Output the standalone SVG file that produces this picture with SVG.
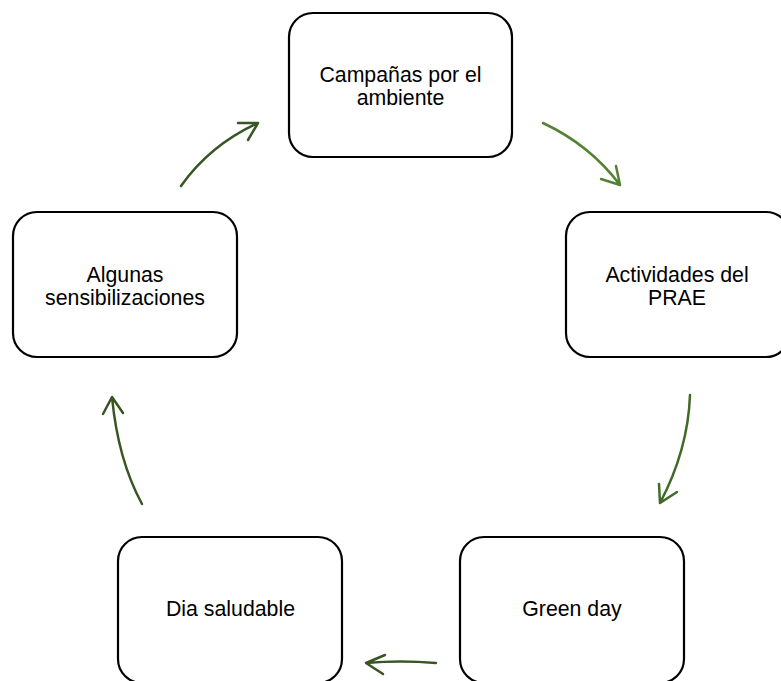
<svg xmlns="http://www.w3.org/2000/svg" width="781" height="681" viewBox="0 0 781 681">
<style>
.box{fill:#fff;stroke:#000;stroke-width:2.2}
.t{font-family:"Liberation Sans",Arial,sans-serif;font-size:21.3px;fill:#000;text-anchor:middle}
.a{fill:none;stroke-width:2.5;stroke-linecap:round;stroke-linejoin:round}
.g1{stroke:#548235}
.g2{stroke:#3f6a28}
.g3{stroke:#375623}
</style>
<rect width="781" height="681" fill="#fff"/>
<g id="n1"><rect class="box" x="289" y="13" width="223" height="144" rx="24"/><text class="t" x="400.5" y="82">Campañas por el</text><text class="t" x="400.5" y="104.5">ambiente</text></g>
<g id="n2"><rect class="box" x="566" y="212" width="224" height="145" rx="24"/><text class="t" x="677" y="282">Actividades del</text><text class="t" x="677" y="304.5">PRAE</text></g>
<g id="n3"><rect class="box" x="460" y="537" width="224" height="146" rx="24"/><text class="t" x="572" y="615.5">Green day</text></g>
<g id="n4"><rect class="box" x="118" y="537" width="224" height="146" rx="24"/><text class="t" x="230.5" y="615.5">Dia saludable</text></g>
<g id="n5"><rect class="box" x="13" y="212" width="224" height="145" rx="24"/><text class="t" x="125" y="282">Algunas</text><text class="t" x="125" y="304.5">sensibilizaciones</text></g>
<g id="connectors">
<path class="a g1" d="M543,123 Q590,145 620,185 M601,179 L620,185 L616,166"/>
<path class="a g2" d="M690,395 Q688,450 660,503 M659,484 L660,503 L677,492"/>
<path class="a g3" d="M436,663 Q400,660 366,663 M385,655 L366,663 L383,674"/>
<path class="a g3" d="M142,504 Q118,460 112,397 M103,414 L112,397 L123,413"/>
<path class="a g3" d="M181,186 Q210,145 258,123 M238,123 L258,123 L248,140"/>
</g>
</svg>
